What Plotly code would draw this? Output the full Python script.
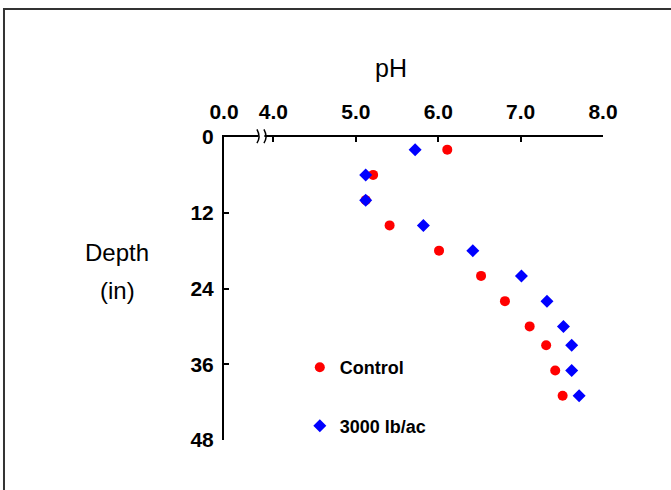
import plotly.graph_objects as go

# soil pH by depth
depth_control = [2, 6, 10, 14, 18, 22, 26, 30, 33, 37, 41]
ph_control = [6.11, 5.21, 5.12, 5.41, 6.01, 6.52, 6.81, 7.11, 7.31, 7.42, 7.51]

depth_3000 = [2, 6, 10, 14, 18, 22, 26, 30, 33, 37, 41]
ph_3000 = [5.72, 5.12, 5.12, 5.82, 6.42, 7.01, 7.32, 7.52, 7.62, 7.62, 7.71]

x_tickvals = [3.4, 4, 5, 6, 7, 8]
x_ticktext = ['0.0', '4.0', '5.0', '6.0', '7.0', '8.0']
y_tickvals = [0, 12, 24, 36, 48]

fig = go.Figure()
fig.add_trace(go.Scatter(x=ph_control, y=depth_control, mode='markers', name='Control',
                         legendgroup='a',
                         marker=dict(symbol='circle', size=10, color='#ff0000')))
fig.add_trace(go.Scatter(x=ph_3000, y=depth_3000, mode='markers', name='3000 lb/ac',
                         legendgroup='b',
                         marker=dict(symbol='diamond', size=10, color='#0000ff')))

fig.update_layout(
    width=671, height=490,
    margin=dict(l=224, r=68, t=137, b=50),
    paper_bgcolor='white', plot_bgcolor='white',
    font=dict(family='Liberation Sans, Arial', size=19, color='black'),
    showlegend=True,
    legend=dict(x=0.2, y=0.30, xanchor='left', yanchor='top',
                tracegroupgap=32, bgcolor='rgba(0,0,0,0)', itemwidth=30,
                font=dict(size=18, family='Liberation Sans, Arial', weight='bold')),
)
fig.update_xaxes(side='top', range=[3.4, 8.0], tickvals=x_tickvals, ticktext=x_ticktext,
                 showgrid=False, zeroline=False, showline=True, linecolor='black', linewidth=2,
                 ticks='inside', ticklen=5, tickwidth=2, tickcolor='black', automargin=False,
                 ticklabelstandoff=8, tickfont=dict(size=21, weight='bold'))
fig.update_yaxes(range=[48, 0], tickvals=y_tickvals,
                 showgrid=False, zeroline=False, showline=True, linecolor='black', linewidth=2,
                 ticks='inside', ticklen=5, tickwidth=2, tickcolor='black', automargin=False,
                 ticklabelstandoff=4, tickfont=dict(size=21, weight='bold'))

# axis titles
fig.add_annotation(text='pH', xref='paper', yref='paper', x=0.44, y=1.228,
                   xanchor='center', yanchor='middle', showarrow=False, font=dict(size=25))
fig.add_annotation(text='Depth', xref='paper', yref='paper', x=-0.282, y=0.62,
                   xanchor='center', yanchor='middle', showarrow=False, font=dict(size=24))
fig.add_annotation(text='(in)', xref='paper', yref='paper', x=-0.282, y=0.495,
                   xanchor='center', yanchor='middle', showarrow=False, font=dict(size=24))

# axis break between 0.0 and 4.0
fig.add_shape(type='rect', xref='x', yref='paper', x0=3.82, x1=3.89, y0=0.99, y1=1.01,
              fillcolor='white', line=dict(width=0), layer='above')
fig.add_shape(type='path', xref='x', yref='paper',
              path='M 3.80,1.025 Q 3.85,1.0 3.80,0.98', line=dict(color='black', width=1.5))
fig.add_shape(type='path', xref='x', yref='paper',
              path='M 3.885,1.025 Q 3.935,1.0 3.885,0.98', line=dict(color='black', width=1.5))

# outer frame
fig.add_shape(type='rect', xref='paper', yref='paper', x0=-0.5805, x1=1.25, y0=-0.25, y1=1.4224,
              line=dict(color='#333333', width=2), fillcolor='rgba(0,0,0,0)', layer='below')

# page body has a default 8px margin, drop it so the figure sits at 0,0
fig.write_html('out.html', config={'displayModeBar': False},
               post_script="document.body.style.margin='0px';")
